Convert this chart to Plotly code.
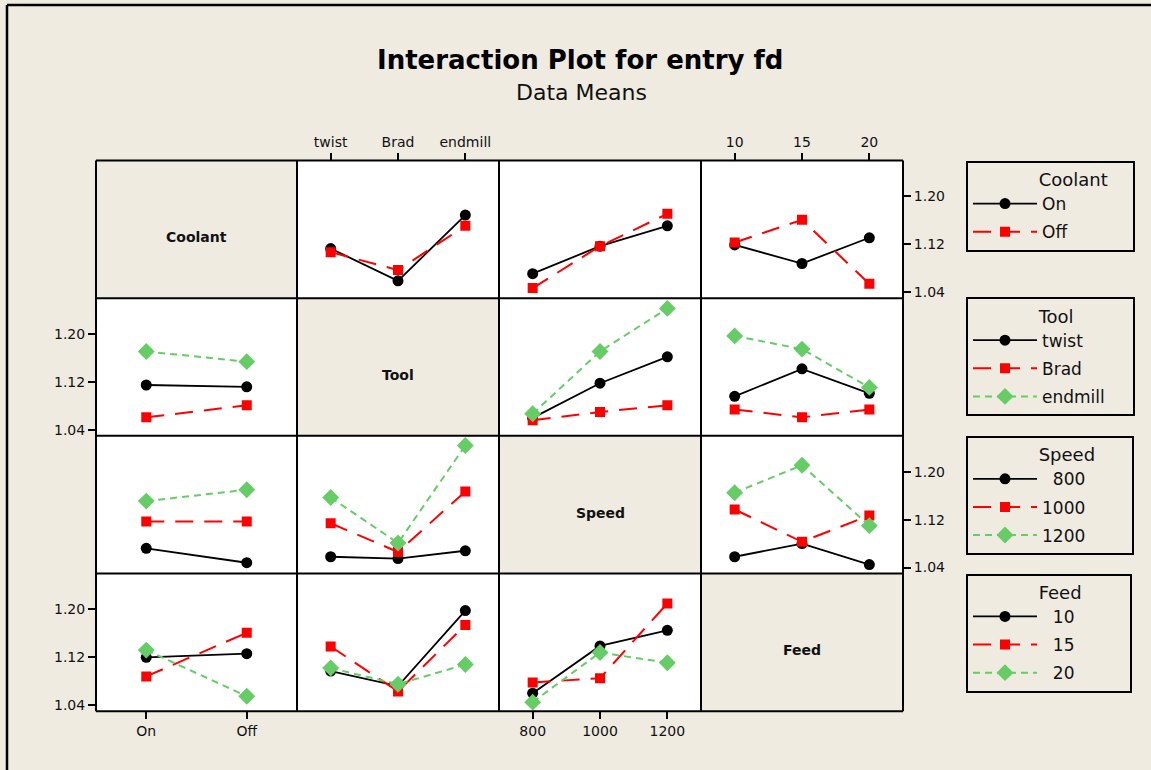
import plotly.graph_objects as go

# ---------------- data (means) ----------------
coolant_levels = ["On", "Off"]
tool_levels = ["twist", "Brad", "endmill"]
speed_levels = [800, 1000, 1200]
feed_levels = [10, 15, 20]

# Row 1: lines = Coolant
coolant_by_tool = {"On": [1.113, 1.059, 1.169], "Off": [1.107, 1.077, 1.151]}
coolant_by_speed = {"On": [1.071, 1.117, 1.151], "Off": [1.047, 1.117, 1.171]}
coolant_by_feed = {"On": [1.119, 1.088, 1.131], "Off": [1.123, 1.161, 1.054]}
# Row 2: lines = Tool
tool_by_coolant = {"twist": [1.115, 1.112], "Brad": [1.061, 1.081], "endmill": [1.171, 1.154]}
tool_by_speed = {"twist": [1.060, 1.118, 1.162], "Brad": [1.056, 1.070, 1.081], "endmill": [1.067, 1.171, 1.243]}
tool_by_feed = {"twist": [1.096, 1.142, 1.101], "Brad": [1.074, 1.061, 1.074], "endmill": [1.197, 1.175, 1.111]}
# Row 3: lines = Speed
speed_by_coolant = {800: [1.072, 1.048], 1000: [1.117, 1.117], 1200: [1.151, 1.170]}
speed_by_tool = {800: [1.058, 1.055, 1.068], 1000: [1.114, 1.066, 1.167], 1200: [1.157, 1.081, 1.244]}
speed_by_feed = {800: [1.058, 1.080, 1.045], 1000: [1.137, 1.083, 1.127], 1200: [1.165, 1.211, 1.110]}
# Row 4: lines = Feed
feed_by_coolant = {10: [1.120, 1.126], 15: [1.088, 1.161], 20: [1.132, 1.055]}
feed_by_tool = {10: [1.097, 1.072, 1.198], 15: [1.138, 1.063, 1.174], 20: [1.102, 1.075, 1.108]}
feed_by_speed = {10: [1.060, 1.139, 1.165], 15: [1.078, 1.085, 1.210], 20: [1.045, 1.128, 1.111]}

y_ticks = [1.04, 1.12, 1.20]
factor_names = ["Coolant", "Tool", "Speed", "Feed"]
factor_levels = [coolant_levels, tool_levels, speed_levels, feed_levels]
legend_labels = [
    ["On", "Off"],
    ["twist", "Brad", "endmill"],
    ["\u2007800", "1000", "1200"],
    ["\u200710", "\u200715", "\u200720"],
]

panels = {
    (0, 1): coolant_by_tool, (0, 2): coolant_by_speed, (0, 3): coolant_by_feed,
    (1, 0): tool_by_coolant, (1, 2): tool_by_speed, (1, 3): tool_by_feed,
    (2, 0): speed_by_coolant, (2, 1): speed_by_tool, (2, 3): speed_by_feed,
    (3, 0): feed_by_coolant, (3, 1): feed_by_tool, (3, 2): feed_by_speed,
}

# ---------------- layout geometry ----------------
W, H = 1151, 770
col_px = [96, 297, 499, 701, 903]
row_px = [161, 299, 437, 575, 713]
BG = "#EFEBE1"
FONT = "DejaVu Sans"

styles = [
    dict(color="#000000", symbol="circle", size=11, dash="solid", width=1.8),
    dict(color="#FF0000", symbol="square", size=10, dash="18px,11px", width=2),
    dict(color="#66CC66", symbol="diamond", size=13, dash="7px,5px", width=2),
]

fig = go.Figure()
layout_axes = {}
legend_names = ["legend", "legend2", "legend3", "legend4"]
legend_shown = set()

k = 0
for r in range(4):
    for c in range(4):
        if r == c:
            continue
        k += 1
        xa = "x" if k == 1 else f"x{k}"
        ya = "y" if k == 1 else f"y{k}"
        xkey = "xaxis" if k == 1 else f"xaxis{k}"
        ykey = "yaxis" if k == 1 else f"yaxis{k}"
        data = panels[(r, c)]
        xlv = factor_levels[c]
        for i, (lvl, vals) in enumerate(data.items()):
            st = styles[i]
            show = r not in legend_shown
            fig.add_trace(go.Scatter(
                x=xlv, y=vals, xaxis=xa, yaxis=ya,
                mode="lines+markers",
                name=legend_labels[r][i],
                legend=legend_names[r],
                legendgroup=f"g{r}_{i}",
                showlegend=show,
                line=dict(color=st["color"], width=st["width"], dash=st["dash"]),
                marker=dict(color=st["color"], symbol=st["symbol"], size=st["size"],
                            line=dict(width=0)),
            ))
        legend_shown.add(r)

        # x axis
        xdom = [col_px[c] / W, col_px[c + 1] / W]
        if c in (0, 1):
            xax = dict(type="category", categoryorder="array", categoryarray=xlv,
                       range=[-0.5, len(xlv) - 0.5])
        elif c == 2:
            xax = dict(type="linear", range=[700, 1300], tickvals=speed_levels)
        else:
            xax = dict(type="linear", range=[7.5, 22.5], tickvals=feed_levels)
        show_x = (c in (0, 2) and r == 3) or (c in (1, 3) and r == 0)
        xax.update(domain=xdom, anchor=ya, showgrid=False, zeroline=False, showline=False,
                   fixedrange=True,
                   showticklabels=show_x, ticks="outside" if show_x else "",
                   ticklen=7, tickwidth=2, tickcolor="black",
                   side="bottom" if c in (0, 2) else "top",
                   tickfont=dict(family=FONT, size=14, color="#111111"))
        layout_axes[xkey] = xax

        # y axis
        ydom = [1 - row_px[r + 1] / H, 1 - row_px[r] / H]
        show_y = (r in (0, 2) and c == 3) or (r in (1, 3) and c == 0)
        yax = dict(domain=ydom, anchor=xa, range=[1.03, 1.26], tickvals=y_ticks,
                   ticktext=[f"{v:.2f}" for v in y_ticks],
                   showgrid=False, zeroline=False, showline=False, fixedrange=True,
                   showticklabels=show_y, ticks="outside" if show_y else "",
                   ticklen=7, tickwidth=2, tickcolor="black",
                   side="right" if r in (0, 2) else "left",
                   tickfont=dict(family=FONT, size=14, color="#111111"))
        layout_axes[ykey] = yax

fig.update_layout(**layout_axes)

# ---------------- shapes: panel grid + outer frame ----------------
shapes = []
for xp in col_px:
    shapes.append(dict(type="line", xref="paper", yref="paper",
                       x0=xp / W, x1=xp / W, y0=1 - row_px[0] / H, y1=1 - row_px[-1] / H,
                       line=dict(color="black", width=2), layer="above"))
for yp in row_px:
    shapes.append(dict(type="line", xref="paper", yref="paper",
                       x0=col_px[0] / W, x1=col_px[-1] / W, y0=1 - yp / H, y1=1 - yp / H,
                       line=dict(color="black", width=2), layer="above"))
shapes.append(dict(type="line", xref="paper", yref="paper", x0=7 / W, x1=7 / W,
                   y0=1 - 5 / H, y1=-0.01, line=dict(color="black", width=2.5)))
shapes.append(dict(type="line", xref="paper", yref="paper", x0=7 / W, x1=1.01,
                   y0=1 - 5 / H, y1=1 - 5 / H, line=dict(color="black", width=2.5)))

# ---------------- annotations ----------------
annotations = [
    dict(text="<b>Interaction Plot for entry fd</b>", xref="paper", yref="paper",
         x=580 / W, y=1 - 60 / H, xanchor="center", yanchor="middle", showarrow=False,
         font=dict(family=FONT, size=26, color="black")),
    dict(text="Data Means", xref="paper", yref="paper",
         x=581 / W, y=1 - 93 / H, xanchor="center", yanchor="middle", showarrow=False,
         font=dict(family=FONT, size=22, color="#111111")),
]
for i, name in enumerate(factor_names):
    cx = (col_px[i] + col_px[i + 1]) / 2
    cy = (row_px[i] + row_px[i + 1]) / 2 + 8
    annotations.append(dict(text=f"<b>{name}</b>", xref="paper", yref="paper",
                            x=cx / W, y=1 - cy / H, xanchor="center", yanchor="middle",
                            showarrow=False, font=dict(family=FONT, size=14, color="#111111")))

# ---------------- legends ----------------
legend_tops = [161, 298, 437, 575]
title_trailing_pad = [4, 10, 6, 8]   # widen boxes to the reference width
legend_common = dict(
    x=966 / W, xanchor="left", yanchor="top",
    bgcolor="rgba(0,0,0,0)", bordercolor="black", borderwidth=2,
    font=dict(family=FONT, size=17, color="#111111"),
    itemwidth=64, orientation="v", tracegroupgap=3,
)
legend_layout = {}
for i, lname in enumerate(legend_names):
    d = dict(legend_common)
    d.update(y=1 - legend_tops[i] / H,
             title=dict(text="\u00a0" * 12 + factor_names[i] + "\u00a0" * title_trailing_pad[i],
                        font=dict(family=FONT, size=18, color="#111111"), side="top"))
    legend_layout[lname] = d

fig.update_layout(
    width=W, height=H,
    margin=dict(l=0, r=0, t=0, b=0),
    paper_bgcolor=BG, plot_bgcolor="white",
    font=dict(family=FONT, color="#111111"),
    shapes=shapes, annotations=annotations,
    **legend_layout,
)

fig.write_html(
    "out.html",
    config={"displayModeBar": False},
    post_script=(
        "document.body.style.margin='0';"
        "document.body.style.padding='0';"
        "document.body.style.overflow='hidden';"
        f"document.body.style.background='{BG}';"
    ),
)
